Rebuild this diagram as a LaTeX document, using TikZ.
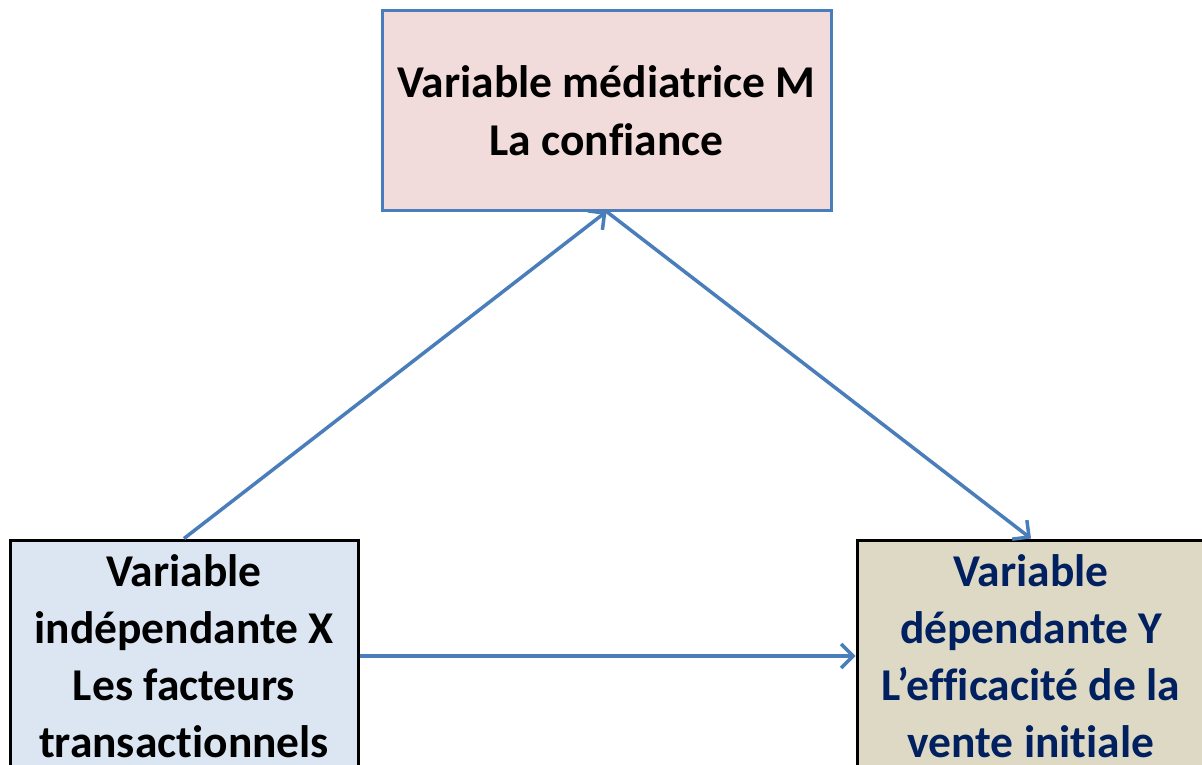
\documentclass[tikz,border=0pt]{standalone}
\usepackage{fontspec}
\setmainfont[Ligatures=NoCommon]{Carlito}
\usetikzlibrary{arrows.meta}
\definecolor{linkblue}{HTML}{4A7EBB}
\definecolor{mfill}{HTML}{F2DCDB}
\definecolor{xfill}{HTML}{DCE6F2}
\definecolor{yfill}{HTML}{DDD9C4}
\definecolor{ytext}{HTML}{002060}

\begin{document}
\begin{tikzpicture}[x=1pt, y=-1pt,
          every node/.style={font=\fontsize{45.5}{57}\selectfont\bfseries, align=center, inner sep=0pt},
          varbox/.style={rectangle, line width=3pt, minimum width=348pt, minimum height=232pt},
          link/.style={draw=linkblue, line width=3.5pt,
            -{Straight Barb[length=12pt, width=24pt, line width=3.5pt]}},
        ]
          \clip (0,0) rectangle (1202,765);
          \fill[white] (0,0) rectangle (1202,765);
          \node[varbox, draw=linkblue, fill=mfill, minimum width=449pt, minimum height=199pt,
                font=\fontsize{45.5}{58}\selectfont\bfseries] (m) at (606.5,110.5)
            {Variable médiatrice M\\La confiance};
          \node[varbox, draw=black, fill=xfill] (x) at (184,656)
            {Variable\\indépendante X\\Les facteurs\\transactionnels};
          \node[varbox, draw=black, fill=yfill, text=ytext] (y) at (1031,656)
            {Variable\\dépendante Y\\L’efficacité de la\\vente initiale};
          \draw[link] (x.north) -- (m.south);
          \draw[link] (m.south) -- (y.north);
          \draw[link] (x.east) -- (y.west);
        \end{tikzpicture}
\end{document}
